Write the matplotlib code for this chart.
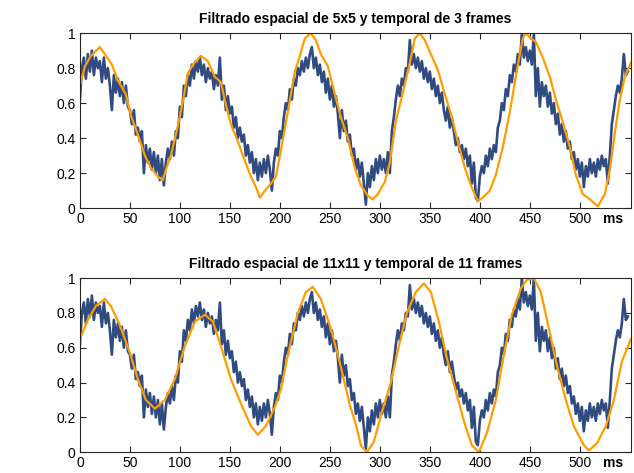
import matplotlib
matplotlib.use("Agg")
import matplotlib.pyplot as plt
import numpy as np

plt.rcParams["font.family"] = ["Liberation Sans", "DejaVu Sans"]

TITLES = ["Filtrado espacial de 5x5 y temporal de 3 frames",
          "Filtrado espacial de 11x11 y temporal de 11 frames"]
XTICKS = [0, 50, 100, 150, 200, 250, 300, 350, 400, 450, 500]
YTICKS = [0, 0.2, 0.4, 0.6, 0.8, 1]
YTICKLABELS = ["0", "0.2", "0.4", "0.6", "0.8", "1"]

# raw intensity, one sample every 2 ms
raw_t = np.arange(0, 550, 2)
raw = [
    0.62, 0.80, 0.86, 0.74, 0.88, 0.78, 0.90, 0.76, 0.86, 0.80,
    0.84, 0.72, 0.86, 0.74, 0.80, 0.70, 0.56, 0.76, 0.66, 0.74,
    0.64, 0.72, 0.60, 0.70, 0.58, 0.56, 0.48, 0.56, 0.42, 0.46,
    0.38, 0.44, 0.20, 0.36, 0.26, 0.34, 0.22, 0.32, 0.20, 0.30,
    0.16, 0.28, 0.13, 0.26, 0.34, 0.28, 0.38, 0.30, 0.44, 0.40,
    0.58, 0.52, 0.70, 0.64, 0.76, 0.70, 0.82, 0.74, 0.84, 0.78,
    0.86, 0.76, 0.82, 0.72, 0.80, 0.74, 0.78, 0.68, 0.76, 0.70,
    0.86, 0.62, 0.70, 0.56, 0.64, 0.54, 0.58, 0.46, 0.52, 0.40,
    0.46, 0.38, 0.42, 0.30, 0.36, 0.26, 0.32, 0.20, 0.28, 0.16,
    0.26, 0.18, 0.28, 0.20, 0.30, 0.22, 0.10, 0.26, 0.34, 0.30,
    0.44, 0.40, 0.52, 0.60, 0.56, 0.68, 0.62, 0.74, 0.70, 0.80,
    0.76, 0.84, 0.78, 0.86, 0.80, 0.88, 0.92, 0.80, 0.86, 0.76,
    0.82, 0.72, 0.78, 0.66, 0.74, 0.62, 0.70, 0.58, 0.64, 0.54,
    0.40, 0.56, 0.44, 0.50, 0.38, 0.42, 0.30, 0.34, 0.22, 0.28,
    0.18, 0.26, 0.14, 0.02, 0.20, 0.12, 0.24, 0.16, 0.28, 0.20,
    0.30, 0.22, 0.28, 0.20, 0.32, 0.20, 0.44, 0.52, 0.62, 0.70,
    0.64, 0.74, 0.70, 0.80, 0.78, 0.96, 0.82, 0.88, 0.80, 0.86,
    0.78, 0.84, 0.74, 0.80, 0.72, 0.78, 0.68, 0.74, 0.64, 0.70,
    0.60, 0.66, 0.56, 0.50, 0.58, 0.46, 0.52, 0.44, 0.36, 0.40,
    0.32, 0.36, 0.28, 0.34, 0.24, 0.30, 0.14, 0.26, 0.06, 0.04,
    0.18, 0.24, 0.20, 0.30, 0.24, 0.34, 0.28, 0.36, 0.32, 0.46,
    0.50, 0.60, 0.56, 0.68, 0.64, 0.76, 0.72, 0.82, 0.78, 0.88,
    0.82, 1.00, 0.86, 0.92, 0.84, 0.90, 0.82, 1.00, 0.64, 0.80,
    0.58, 0.72, 0.64, 0.70, 0.58, 0.66, 0.54, 0.60, 0.48, 0.54,
    0.42, 0.48, 0.38, 0.44, 0.34, 0.38, 0.28, 0.32, 0.22, 0.28,
    0.18, 0.26, 0.12, 0.24, 0.18, 0.28, 0.20, 0.26, 0.18, 0.28,
    0.22, 0.30, 0.24, 0.28, 0.14, 0.30, 0.48, 0.56, 0.64, 0.70,
    0.66, 0.74, 0.88, 0.76, 0.78,
]

# 5x5 spatial + 3 frame temporal filter
f3_t = [0, 5, 11, 20, 25, 32, 38, 46, 51, 58, 65, 71, 78, 83, 86, 91, 98, 103,
        108, 113, 121, 128, 135, 141, 146, 151, 158, 165, 171, 176, 180, 185,
        191, 196, 201, 208, 215, 220, 225, 231, 236, 241, 248, 255, 261, 268,
        275, 281, 288, 293, 298, 305, 310, 316, 323, 330, 335, 340, 345, 351,
        358, 365, 371, 378, 385, 391, 398, 403, 410, 416, 423, 430, 435, 440,
        443, 446, 451, 456, 463, 470, 476, 483, 490, 496, 503, 510, 518, 525,
        530, 535, 540, 545, 551]
f3 = [0.70, 0.81, 0.87, 0.92, 0.88, 0.82, 0.73, 0.65, 0.53, 0.42, 0.30, 0.23,
      0.18, 0.16, 0.22, 0.30, 0.47, 0.61, 0.77, 0.82, 0.87, 0.84, 0.75, 0.72,
      0.59, 0.48, 0.38, 0.27, 0.18, 0.12, 0.06, 0.10, 0.14, 0.18, 0.33, 0.55,
      0.78, 0.87, 0.97, 1.00, 0.96, 0.88, 0.81, 0.65, 0.52, 0.40, 0.23, 0.13,
      0.07, 0.05, 0.08, 0.15, 0.26, 0.50, 0.66, 0.83, 0.97, 1.00, 0.96, 0.88,
      0.79, 0.65, 0.54, 0.38, 0.23, 0.13, 0.04, 0.06, 0.10, 0.19, 0.35, 0.55,
      0.72, 0.88, 0.97, 1.00, 0.97, 0.95, 0.86, 0.75, 0.62, 0.49, 0.35, 0.19,
      0.08, 0.05, 0.01, 0.08, 0.22, 0.43, 0.62, 0.75, 0.83]

# 11x11 spatial + 11 frame temporal filter
f11_t = [0, 8, 16, 25, 31, 40, 50, 58, 66, 75, 85, 95, 105, 115, 125, 133, 141,
         151, 161, 171, 178, 186, 195, 201, 208, 218, 226, 233, 241, 251, 261,
         270, 276, 281, 287, 294, 302, 311, 319, 327, 336, 344, 351, 359, 367,
         376, 384, 392, 399, 407, 416, 424, 432, 441, 447, 454, 461, 469, 477,
         486, 494, 504, 509, 517, 526, 534, 542, 551]
f11 = [0.65, 0.76, 0.84, 0.88, 0.84, 0.73, 0.57, 0.42, 0.30, 0.25, 0.30, 0.42,
       0.61, 0.75, 0.79, 0.75, 0.61, 0.42, 0.28, 0.15, 0.10, 0.15, 0.26, 0.36,
       0.56, 0.80, 0.92, 0.95, 0.88, 0.71, 0.49, 0.27, 0.16, 0.04, 0.00, 0.06,
       0.23, 0.40, 0.61, 0.80, 0.92, 0.97, 0.92, 0.75, 0.54, 0.35, 0.18, 0.04,
       0.00, 0.11, 0.30, 0.56, 0.79, 0.94, 0.99, 1.00, 0.92, 0.71, 0.50, 0.30,
       0.15, 0.04, 0.01, 0.05, 0.15, 0.30, 0.52, 0.65]

BLUE = "#2F4B80"
ORANGE = "#FF9C00"

fig = plt.figure(figsize=(6.34, 4.73), dpi=100)
boxes = [[0.126, 0.560, 0.869, 0.370], [0.126, 0.044, 0.869, 0.368]]

for box, title, ft, fv in zip(boxes, TITLES, [f3_t, f11_t], [f3, f11]):
    ax = fig.add_axes(box)
    ax.plot(raw_t, raw, color=BLUE, linewidth=1.9)
    ax.plot(ft, fv, color=ORANGE, linewidth=1.6, solid_joinstyle="round")
    ax.set_xlim(0, 551)
    ax.set_ylim(0, 1)
    ax.set_xticks(XTICKS)
    ax.set_yticks(YTICKS)
    ax.set_yticklabels(YTICKLABELS)
    ax.tick_params(direction="in", length=4, width=0.8, top=True, right=True,
                   labelsize=10, pad=3, colors="#262626", labelcolor="black")
    for s in ax.spines.values():
        s.set_linewidth(0.8)
        s.set_color("#262626")
    ax.set_title(title, fontsize=10, fontweight="bold", pad=7)
    ax.annotate("ms", xy=(533, 0), xycoords=("data", "axes fraction"),
                xytext=(0, -3), textcoords="offset points",
                ha="center", va="top", fontsize=10, fontweight="bold")

fig.savefig("out.png", dpi=100)
